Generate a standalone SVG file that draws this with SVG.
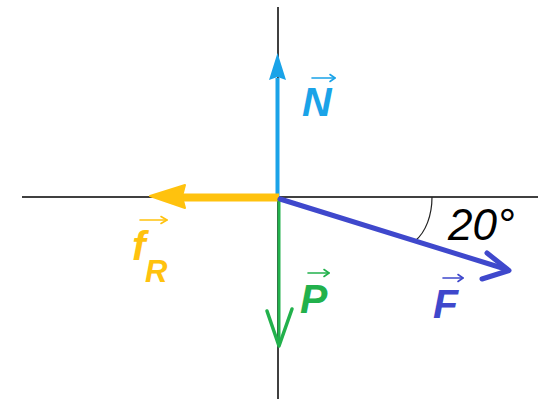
<svg xmlns="http://www.w3.org/2000/svg" width="541" height="399" viewBox="0 0 541 399">
<style>
.axis{stroke:#000;stroke-width:1.5;fill:none}
.lbl{font-family:"Liberation Sans",Arial,sans-serif;font-weight:bold;font-style:italic;font-size:41px}
.va{fill:none;stroke-width:1.6;stroke-linecap:round;stroke-linejoin:round}
</style>
<rect width="541" height="399" fill="#fff"/>
<g id="axes">
<line class="axis" x1="278" y1="7" x2="278" y2="399"/>
<line class="axis" x1="22" y1="197" x2="538" y2="197"/>
<path d="M432,197 C432,215 426,232 415,241" fill="none" stroke="#222" stroke-width="1.2"/>
</g>
<g id="connectors">
<g id="vecN">
<line x1="277.5" y1="198" x2="277.5" y2="78" stroke="#1aa3e8" stroke-width="4"/>
<polygon points="277.5,53 286,80 277.5,77 269,80" fill="#1aa3e8"/>
</g>
<g id="vecFR">
<line x1="279" y1="197.5" x2="180" y2="197.5" stroke="#ffc20e" stroke-width="8"/>
<polygon points="150,196 185,185 182,196.5 185,208" fill="#ffc20e" stroke="#ffc20e" stroke-width="2" stroke-linejoin="round"/>
</g>
<g id="vecP">
<line x1="279" y1="199" x2="279" y2="345" stroke="#22b14c" stroke-width="3"/>
<polyline points="267,311 279,346 292,309" fill="none" stroke="#22b14c" stroke-width="3.5" stroke-linejoin="round" stroke-linecap="round"/>
</g>
<g id="vecF">
<line x1="280" y1="199" x2="507" y2="269.5" stroke="#3f48cc" stroke-width="5" stroke-linecap="round"/>
<polyline points="487,253 509,270.5 482,279" fill="none" stroke="#3f48cc" stroke-width="5" stroke-linejoin="round" stroke-linecap="round"/>
</g>
</g>
<g id="labelN" fill="#1aa3e8">
<text class="lbl" x="302" y="116">N</text>
<g class="va" stroke="#1aa3e8"><line x1="312" y1="78" x2="335" y2="78"/><polyline points="330,74.5 335,78 330,81.5"/></g>
</g>
<g id="labelFR" fill="#ffc20e">
<text class="lbl" x="132" y="260">f<tspan font-size="31" x="145" y="282">R</tspan></text>
<g class="va" stroke="#ffc20e"><line x1="140" y1="220" x2="167" y2="220"/><polyline points="161,216.5 167,220 161,223.5"/></g>
</g>
<g id="labelP" fill="#22b14c">
<text class="lbl" x="300" y="313">P</text>
<g class="va" stroke="#22b14c"><line x1="308" y1="273" x2="329" y2="273"/><polyline points="324,269.5 329,273 324,276.5"/></g>
</g>
<g id="labelF" fill="#3f48cc">
<text class="lbl" x="433" y="318">F</text>
<g class="va" stroke="#3f48cc"><line x1="443" y1="278" x2="463" y2="278"/><polyline points="458,274.5 463,278 458,281.5"/></g>
</g>
<g id="angle">
<text x="448" y="240" font-family="Liberation Sans,Arial,sans-serif" font-style="italic" font-size="44" fill="#000">20°</text>
</g>
</svg>
